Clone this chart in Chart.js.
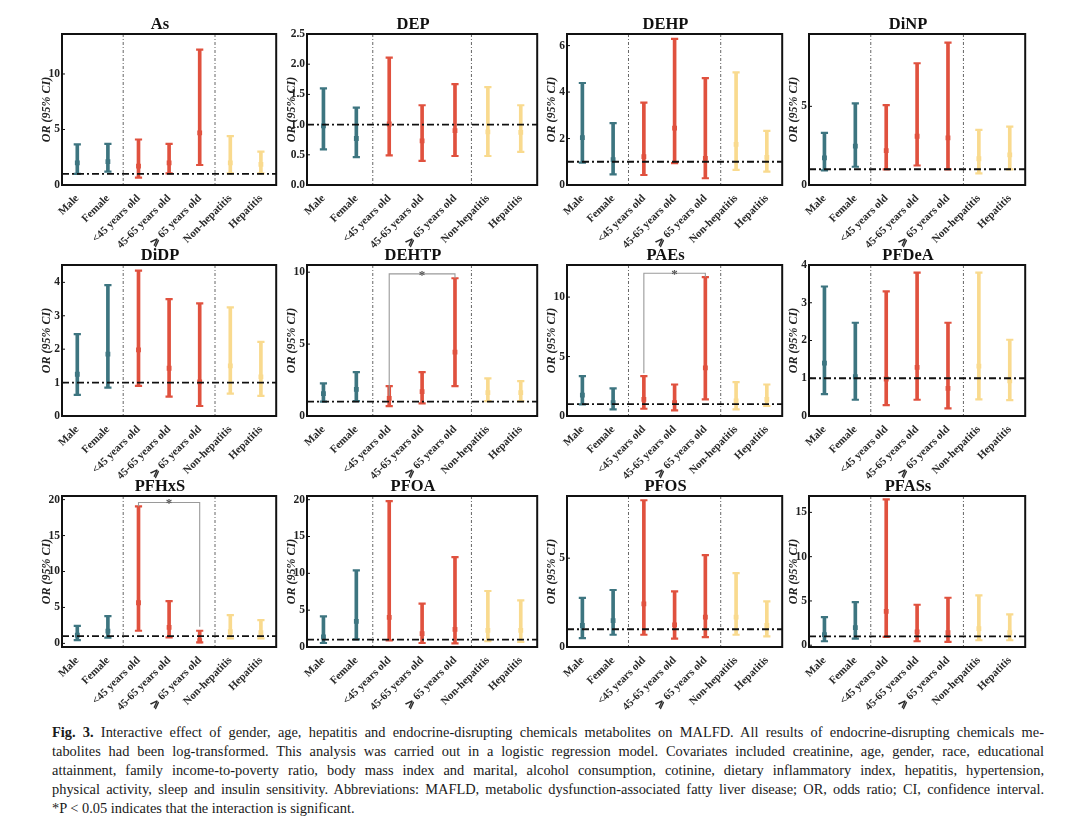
<!DOCTYPE html>
<html lang="en">
<head>
<meta charset="UTF-8">
<title>Fig. 3 – interaction effects on MAFLD</title>
<script src="https://cdn.jsdelivr.net/npm/chart.js"></script>
<style>
  body { margin: 0; background: #fff; }
  #page { position: relative; width: 1078px; height: 819px; overflow: hidden; background: #fff; }
  .panel { position: absolute; }
  #caption {
    position: absolute; left: 52px; top: 723px; width: 992px;
    font-family: "Liberation Serif", "Times New Roman", serif;
    font-size: 14.4px; line-height: 19px; color: #1a1a1a;
  }
  #caption .j { text-align: justify; text-align-last: justify; }
</style>
</head>
<body>
<div id="page">
  <div id="caption">
    <div class="j"><b>Fig. 3.</b> Interactive effect of gender, age, hepatitis and endocrine-disrupting chemicals metabolites on MALFD. All results of endocrine-disrupting chemicals me-</div>
    <div class="j">tabolites had been log-transformed. This analysis was carried out in a logistic regression model. Covariates included creatinine, age, gender, race, educational</div>
    <div class="j">attainment, family income-to-poverty ratio, body mass index and marital, alcohol consumption, cotinine, dietary inflammatory index, hepatitis, hypertension,</div>
    <div class="j">physical activity, sleep and insulin sensitivity. Abbreviations: MAFLD, metabolic dysfunction-associated fatty liver disease; OR, odds ratio; CI, confidence interval.</div>
    <div>*P &lt; 0.05 indicates that the interaction is significant.</div>
  </div>
</div>

<script>
  // ---- data ----
  const categories = ['Male', 'Female', '<45 years old', '45-65 years old', '⩾ 65 years old', 'Non-hepatitis', 'Hepatitis'];
  const panelTitles = ['As', 'DEP', 'DEHP', 'DiNP', 'DiDP', 'DEHTP', 'PAEs', 'PFDeA', 'PFHxS', 'PFOA', 'PFOS', 'PFASs'];

  const orValues = [
    [2.0, 2.1, 1.7, 2.0, 4.7, 2.0, 1.85],
    [0.98, 0.77, 1.01, 0.73, 0.90, 0.88, 0.87],
    [2.04, 1.09, 1.22, 2.45, 1.15, 1.75, 1.19],
    [1.73, 2.47, 2.19, 3.1, 3.0, 1.67, 1.92],
    [1.25, 1.85, 1.98, 1.43, 1.02, 1.5, 1.17],
    [1.55, 1.85, 1.23, 1.69, 4.44, 1.62, 1.62],
    [1.76, 1.12, 1.4, 1.12, 4.05, 1.26, 1.4],
    [1.4, 1.04, 0.98, 1.29, 0.73, 1.32, 0.93],
    [1.16, 1.71, 5.65, 2.22, 0.37, 1.62, 1.48],
    [1.36, 3.48, 4.03, 1.81, 2.4, 2.26, 2.26],
    [1.21, 1.49, 2.43, 1.25, 1.68, 1.68, 1.21],
    [1.2, 1.98, 3.82, 1.5, 1.42, 1.87, 1.42]
  ];
  const ciLow = [
    [1.0, 1.2, 0.66, 1.05, 1.8, 1.05, 1.05],
    [0.59, 0.46, 0.49, 0.40, 0.48, 0.48, 0.55],
    [0.96, 0.46, 0.43, 0.94, 0.29, 0.65, 0.58],
    [0.93, 1.16, 0.99, 1.24, 0.99, 0.74, 0.99],
    [0.63, 0.85, 0.9, 0.58, 0.3, 0.67, 0.6],
    [1.0, 1.04, 0.69, 0.88, 2.08, 1.04, 1.04],
    [0.98, 0.56, 0.61, 0.47, 1.4, 0.56, 0.84],
    [0.58, 0.43, 0.29, 0.43, 0.2, 0.44, 0.42],
    [0.46, 0.79, 1.76, 0.83, 0.14, 0.69, 0.69],
    [0.54, 1.04, 0.9, 0.54, 0.5, 0.81, 0.68],
    [0.5, 0.69, 0.69, 0.47, 0.56, 0.69, 0.6],
    [0.45, 0.75, 0.94, 0.45, 0.37, 0.56, 0.56]
  ];
  const ciHigh = [
    [3.65, 3.7, 4.1, 3.7, 12.2, 4.4, 3.0],
    [1.6, 1.28, 2.11, 1.32, 1.67, 1.62, 1.32],
    [4.39, 2.66, 3.55, 6.29, 4.6, 4.85, 2.33],
    [3.31, 5.19, 5.08, 7.74, 9.05, 3.5, 3.71],
    [2.45, 3.92, 4.35, 3.5, 3.37, 3.25, 2.22],
    [2.27, 3.05, 2.08, 3.05, 9.58, 2.62, 2.43],
    [3.35, 2.32, 3.35, 2.65, 11.68, 2.85, 2.65],
    [3.43, 2.47, 3.3, 3.8, 2.47, 3.8, 2.02],
    [2.45, 3.8, 19.07, 5.88, 1.76, 3.94, 3.24],
    [4.16, 10.4, 19.8, 5.88, 12.2, 7.6, 6.33],
    [2.76, 3.21, 8.26, 3.13, 5.17, 4.16, 2.57],
    [3.18, 4.87, 16.48, 4.57, 5.36, 5.62, 3.48]
  ];

  const yMin = [0, 0, 0, 0, 0, 0, 0, 0, -0.5, 0, 0, -0.2];
  const yMax = [13.6, 2.5, 6.5, 9.6, 4.52, 10.5, 12.7, 4.0, 20.5, 20.5, 8.5, 16.85];
  const yTicks = [
    [0, 5, 10], [0, 0.5, 1, 1.5, 2, 2.5], [0, 2, 4, 6], [0, 5],
    [0, 1, 2, 3, 4], [0, 5, 10], [0, 5, 10], [0, 1, 2, 3, 4],
    [0, 5, 10, 15, 20], [0, 5, 10, 15, 20], [0, 5], [0, 5, 10, 15]
  ];
  const tickDecimals = [0, 1, 0, 0, 0, 0, 0, 0, 0, 0, 0, 0];
  const refValue = 1;

  // significance brackets (*): panel, from/to category, left end, bar height, right end
  const bracketPanel = [5, 6, 8];
  const bracketFrom = [2, 2, 2];
  const bracketTo = [4, 4, 4];
  const bracketLeftEnd = [1.4, 3.6, 19.07];
  const bracketTop = [9.88, 12.0, 19.6];
  const bracketRightEnd = [9.58, 11.68, 2.3];

  // ---- style / layout ----
  const groupColors = ['#3d7580', '#3d7580', '#e0513e', '#e0513e', '#e0513e', '#f9da8e', '#f9da8e'];
  const sepAfter = [1, 4];
  const serif = '"Liberation Serif", "Times New Roman", serif';
  const colLeft = [62, 307, 567, 809];
  const colWidth = [218, 234, 219, 220];
  const rowTop = [34, 265, 496];
  const plotH = 151, axisW = 22, titleH = 18, xAxisH = 64;

  const framePlugin = {
    id: 'frame',
    beforeDatasetsDraw(chart) {
      const { ctx, chartArea: a, scales: { x } } = chart;
      ctx.save();
      ctx.strokeStyle = '#555';
      ctx.lineWidth = 0.9;
      ctx.setLineDash([3, 2, 1, 2]);
      sepAfter.forEach(i => {
        const px = (x.getPixelForValue(i) + x.getPixelForValue(i + 1)) / 2;
        ctx.beginPath();
        ctx.moveTo(px, a.top);
        ctx.lineTo(px, a.bottom);
        ctx.stroke();
      });
      ctx.restore();
    },
    afterDatasetsDraw(chart, args, opts) {
      const { ctx, chartArea: a, scales: { x, y } } = chart;
      ctx.save();
      // OR = 1 reference line
      const py = y.getPixelForValue(refValue);
      ctx.strokeStyle = '#111';
      ctx.lineWidth = 1.8;
      ctx.setLineDash([7, 3, 2, 3]);
      ctx.beginPath();
      ctx.moveTo(a.left, py);
      ctx.lineTo(a.right, py);
      ctx.stroke();
      ctx.setLineDash([]);

      // significance bracket
      const b = bracketPanel.indexOf(opts.panel);
      if (b >= 0) {
        const x1 = x.getPixelForValue(bracketFrom[b]);
        const x2 = x.getPixelForValue(bracketTo[b]);
        const yt = y.getPixelForValue(bracketTop[b]);
        ctx.strokeStyle = '#9a9a9a';
        ctx.lineWidth = 1.1;
        ctx.beginPath();
        ctx.moveTo(x1, y.getPixelForValue(bracketLeftEnd[b]));
        ctx.lineTo(x1, yt);
        ctx.lineTo(x2, yt);
        ctx.lineTo(x2, y.getPixelForValue(bracketRightEnd[b]));
        ctx.stroke();
        ctx.fillStyle = '#555';
        ctx.font = 'bold 13px ' + serif;
        ctx.textAlign = 'center';
        ctx.textBaseline = 'alphabetic';
        ctx.fillText('*', (x1 + x2) / 2, yt + 5);
      }

      // inward tick marks and frame
      ctx.strokeStyle = '#111';
      ctx.lineWidth = 1;
      y.ticks.forEach(t => {
        const ty = y.getPixelForValue(t.value);
        ctx.beginPath();
        ctx.moveTo(a.left, ty);
        ctx.lineTo(a.left + 3, ty);
        ctx.stroke();
      });
      ctx.lineWidth = 2;
      ctx.strokeRect(a.left, a.top, a.right - a.left, a.bottom - a.top);
      ctx.restore();
    }
  };

  const page = document.getElementById('page');

  panelTitles.forEach((title, p) => {
    const r = Math.floor(p / 4), c = p % 4;
    const box = document.createElement('div');
    box.className = 'panel';
    box.style.left = (colLeft[c] - axisW) + 'px';
    box.style.top = (rowTop[r] - titleH) + 'px';
    box.style.width = (colWidth[c] + axisW + 2) + 'px';
    box.style.height = (titleH + plotH + xAxisH) + 'px';
    const canvas = document.createElement('canvas');
    box.appendChild(canvas);
    page.appendChild(box);

    const capStyle = {
      type: 'line', showLine: false, pointStyle: 'line',
      pointRadius: 3.6, pointBorderWidth: 2.2, pointBorderColor: groupColors,
      pointHoverRadius: 3.6, order: 2
    };

    new Chart(canvas, {
      data: {
        labels: categories,
        datasets: [
          {
            type: 'bar',
            data: ciLow[p].map((lo, i) => [lo, ciHigh[p][i]]),
            backgroundColor: groupColors,
            barThickness: 3,
            order: 3
          },
          Object.assign({ data: ciHigh[p] }, capStyle),
          Object.assign({ data: ciLow[p] }, capStyle),
          {
            type: 'line',
            data: orValues[p],
            showLine: false,
            pointStyle: 'rect',
            pointRadius: 3.4,
            pointHoverRadius: 3.4,
            pointBackgroundColor: groupColors,
            pointBorderColor: groupColors,
            pointBorderWidth: 0,
            order: 1
          }
        ]
      },
      options: {
        responsive: true,
        maintainAspectRatio: false,
        animation: false,
        events: [],
        layout: { padding: { right: 2 } },
        plugins: {
          legend: { display: false },
          tooltip: { enabled: false },
          title: {
            display: true,
            text: title,
            color: '#111',
            font: { family: serif, size: 16.5, weight: 'bold', lineHeight: 1 },
            padding: { top: 0, bottom: 1.5 }
          },
          frame: { panel: p }
        },
        scales: {
          x: {
            type: 'category',
            offset: true,
            grid: { display: false, drawTicks: false },
            border: { display: false },
            ticks: {
              autoSkip: false,
              minRotation: 45,
              maxRotation: 45,
              padding: 7,
              color: '#2a2a2a',
              font: { family: serif, size: 11, weight: 'bold' }
            },
            afterFit: s => { s.height = xAxisH; }
          },
          y: {
            min: yMin[p],
            max: yMax[p],
            grid: { display: false, drawTicks: false },
            border: { display: false },
            afterBuildTicks: s => { s.ticks = yTicks[p].map(v => ({ value: v })); },
            ticks: {
              padding: 2,
              color: '#222',
              font: { family: serif, size: 11.5, weight: 'bold' },
              callback: v => Number(v).toFixed(tickDecimals[p])
            },
            title: {
              display: true,
              text: 'OR (95% CI)',
              color: '#222',
              padding: 0,
              font: { family: serif, size: 12, weight: 'bold', style: 'italic' }
            },
            afterFit: s => { s.width = axisW; }
          }
        }
      },
      plugins: [framePlugin]
    });
  });
</script>
</body>
</html>
